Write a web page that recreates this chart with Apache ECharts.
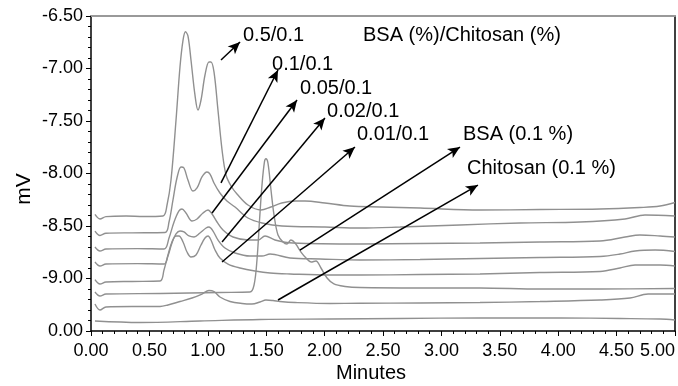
<!DOCTYPE html>
<html>
<head>
<meta charset="utf-8">
<script src="https://cdn.jsdelivr.net/npm/echarts@6/dist/echarts.min.js"></script>
<style>
  html, body { margin: 0; padding: 0; background: #fff; }
  #chart { width: 678px; height: 386px; }
</style>
</head>
<body>
<div id="chart"></div>
<script>
// Axis ticks
const xTickStep = 0.5;
const yTickValues = [-9.5, -9.0, -8.5, -8.0, -7.5, -7.0, -6.5];
const yTickLabels = ['0.00', '-9.00', '-8.50', '-8.00', '-7.50', '-7.00', '-6.50'];

// Chromatograms: [minutes, mV]
const ratio05 = [[0.034,-8.390],[0.077,-8.433],[0.128,-8.411],[0.300,-8.405],[0.450,-8.410],[0.616,-8.405],[0.651,-8.300],[0.685,-8.062],[0.728,-7.490],[0.762,-6.983],[0.788,-6.729],[0.809,-6.650],[0.830,-6.690],[0.856,-6.919],[0.890,-7.252],[0.916,-7.395],[0.942,-7.300],[0.976,-7.062],[1.010,-6.938],[1.027,-6.938],[1.053,-7.033],[1.087,-7.395],[1.122,-7.776],[1.156,-8.014],[1.199,-8.119],[1.250,-8.195],[1.344,-8.300],[1.455,-8.348],[1.540,-8.319],[1.633,-8.281],[1.750,-8.262],[1.832,-8.262],[2.003,-8.281],[2.217,-8.310],[2.474,-8.319],[2.817,-8.329],[3.330,-8.348],[3.844,-8.343],[4.358,-8.338],[4.700,-8.324],[4.872,-8.310],[5.000,-8.276]];
const ratio01 = [[0.034,-8.548],[0.077,-8.590],[0.128,-8.569],[0.350,-8.565],[0.634,-8.562],[0.668,-8.462],[0.702,-8.252],[0.736,-8.043],[0.771,-7.938],[0.796,-7.948],[0.830,-8.062],[0.873,-8.167],[0.908,-8.138],[0.950,-8.033],[0.993,-7.986],[1.019,-8.005],[1.053,-8.090],[1.104,-8.186],[1.164,-8.262],[1.233,-8.319],[1.344,-8.424],[1.464,-8.471],[1.635,-8.500],[2.003,-8.510],[2.303,-8.519],[2.646,-8.510],[3.159,-8.490],[3.673,-8.471],[4.187,-8.462],[4.572,-8.433],[4.743,-8.395],[5.000,-8.405]];
const ratio005 = [[0.034,-8.700],[0.077,-8.738],[0.128,-8.719],[0.400,-8.715],[0.625,-8.719],[0.668,-8.614],[0.711,-8.462],[0.753,-8.357],[0.779,-8.338],[0.813,-8.376],[0.865,-8.452],[0.908,-8.433],[0.959,-8.376],[1.002,-8.348],[1.036,-8.386],[1.079,-8.462],[1.130,-8.538],[1.216,-8.605],[1.344,-8.633],[1.430,-8.633],[1.490,-8.595],[1.575,-8.633],[1.729,-8.662],[2.303,-8.671],[2.817,-8.667],[3.330,-8.662],[3.844,-8.652],[4.358,-8.643],[4.572,-8.605],[4.700,-8.586],[4.872,-8.595],[5.000,-8.605]];
const ratio002 = [[0.034,-8.843],[0.077,-8.881],[0.128,-8.862],[0.400,-8.858],[0.625,-8.862],[0.659,-8.786],[0.693,-8.662],[0.728,-8.576],[0.762,-8.548],[0.796,-8.557],[0.839,-8.595],[0.882,-8.605],[0.933,-8.567],[0.985,-8.519],[1.010,-8.510],[1.045,-8.548],[1.087,-8.633],[1.147,-8.710],[1.233,-8.757],[1.361,-8.786],[1.464,-8.786],[1.533,-8.767],[1.704,-8.805],[1.961,-8.814],[2.303,-8.824],[2.817,-8.819],[3.330,-8.810],[3.844,-8.800],[4.358,-8.790],[4.529,-8.767],[4.658,-8.738],[4.829,-8.729],[5.000,-8.743]];
const ratio001 = [[0.034,-9.010],[0.077,-9.052],[0.128,-9.033],[0.350,-9.028],[0.591,-9.024],[0.625,-8.919],[0.659,-8.776],[0.693,-8.652],[0.728,-8.595],[0.753,-8.595],[0.788,-8.652],[0.822,-8.748],[0.856,-8.795],[0.899,-8.776],[0.942,-8.681],[0.976,-8.614],[1.002,-8.595],[1.027,-8.633],[1.062,-8.729],[1.104,-8.805],[1.173,-8.862],[1.276,-8.900],[1.404,-8.929],[1.533,-8.948],[1.704,-8.957],[2.046,-8.967],[2.303,-8.967],[2.817,-8.962],[3.330,-8.957],[3.844,-8.943],[4.358,-8.933],[4.529,-8.900],[4.658,-8.871],[4.872,-8.871],[5.000,-8.881]];
const bsaOnly = [[0.034,-9.129],[0.077,-9.167],[0.128,-9.148],[0.591,-9.143],[1.104,-9.133],[1.361,-9.129],[1.396,-9.062],[1.421,-8.824],[1.443,-8.443],[1.464,-8.110],[1.485,-7.890],[1.498,-7.860],[1.515,-7.900],[1.541,-8.157],[1.567,-8.395],[1.601,-8.586],[1.644,-8.652],[1.678,-8.671],[1.712,-8.633],[1.747,-8.662],[1.798,-8.748],[1.841,-8.805],[1.884,-8.843],[1.926,-8.833],[1.969,-8.900],[2.021,-8.995],[2.080,-9.052],[2.175,-9.076],[2.303,-9.086],[2.817,-9.090],[3.330,-9.090],[3.844,-9.100],[4.358,-9.100],[5.000,-9.095]];
const chitosanOnly = [[0.034,-9.243],[0.077,-9.300],[0.128,-9.271],[0.350,-9.267],[0.591,-9.267],[0.659,-9.252],[0.762,-9.219],[0.865,-9.186],[0.950,-9.148],[1.010,-9.114],[1.053,-9.124],[1.104,-9.176],[1.190,-9.219],[1.293,-9.238],[1.378,-9.243],[1.447,-9.224],[1.498,-9.205],[1.558,-9.210],[1.618,-9.219],[1.747,-9.229],[2.046,-9.238],[2.303,-9.236],[2.817,-9.233],[3.330,-9.229],[3.844,-9.219],[4.358,-9.205],[4.615,-9.186],[4.769,-9.148],[5.000,-9.148]];
const blankRun = [[0.034,-9.405],[0.420,-9.419],[0.933,-9.405],[1.447,-9.390],[2.046,-9.386],[2.646,-9.381],[3.330,-9.376],[4.015,-9.376],[4.529,-9.381],[4.872,-9.386],[5.000,-9.395]];

const traces = [ratio05, ratio01, ratio005, ratio002, ratio001, bsaOnly, chitosanOnly, blankRun];

// Callouts: text, arrow tail, arrow head, text anchor (left, middle)
const calloutText = ['0.5/0.1', '0.1/0.1', '0.05/0.1', '0.02/0.1', '0.01/0.1', 'BSA (0.1 %)', 'Chitosan (0.1 %)'];
const arrowFrom = [[1.113,-6.919],[1.113,-8.090],[1.036,-8.376],[1.122,-8.652],[1.122,-8.843],[1.789,-8.729],[1.601,-9.205]];
const arrowTo = [[1.276,-6.748],[1.601,-7.014],[1.764,-7.300],[2.003,-7.471],[2.260,-7.748],[3.159,-7.748],[3.313,-8.110]];
const textAt = [[1.301,-6.681],[1.550,-6.957],[1.789,-7.186],[2.021,-7.414],[2.277,-7.633],[3.185,-7.633],[3.219,-7.948]];
const headerText = 'BSA (%)/Chitosan (%)';
const headerAt = [2.329, -6.681];

const FONT = '"Liberation Sans", Arial, Helvetica, sans-serif';
const chart = echarts.init(document.getElementById('chart'), null, { renderer: 'canvas' });

const series = traces.map((d, i) => ({
  type: 'line',
  data: d,
  showSymbol: false,
  smooth: 0.35,
  silent: true,
  lineStyle: { color: '#909090', width: 1.4 },
  z: 2,
  markLine: i === 0 ? {
    silent: true,
    symbol: ['none', 'arrow'],
    symbolSize: [8, 12],
    label: { show: false },
    lineStyle: { color: '#000', width: 1.5, type: 'solid' },
    data: arrowFrom.map((p, k) => [{ coord: p }, { coord: arrowTo[k] }])
  } : undefined
}));

chart.setOption({
  animation: false,
  grid: { left: 91, right: 3, top: 16, bottom: 55 },
  xAxis: [{
    type: 'value', min: 0, max: 5, interval: xTickStep,
    axisLine: { show: true, onZero: false, lineStyle: { color: '#000', width: 1.5 } },
    axisTick: { show: true, length: 5, lineStyle: { color: '#000', width: 1 } },
    minorTick: { show: true, splitNumber: 5, length: 3, lineStyle: { color: '#000', width: 1 } },
    splitLine: { show: false },
    axisLabel: {
      color: '#000', fontSize: 18, fontFamily: FONT, margin: 11,
      formatter: v => v.toFixed(2), alignMaxLabel: 'right'
    }
  }, {
    type: 'value', min: 0, max: 5, position: 'top',
    axisLine: { show: true, onZero: false, lineStyle: { color: '#999', width: 2 } },
    axisTick: { show: false }, axisLabel: { show: false }, splitLine: { show: false }
  }],
  yAxis: [{
    type: 'value', min: yTickValues[0], max: yTickValues[yTickValues.length - 1], interval: 0.5,
    axisLine: { show: true, onZero: false, lineStyle: { color: '#000', width: 1.5 } },
    axisTick: { show: true, length: 5, lineStyle: { color: '#000', width: 1 } },
    minorTick: { show: true, splitNumber: 5, length: 3, lineStyle: { color: '#000', width: 1 } },
    splitLine: { show: false },
    axisLabel: {
      color: '#000', fontSize: 18, fontFamily: FONT, margin: 8, padding: [10, 0, 0, 0],
      formatter: v => {
        const k = yTickValues.findIndex(t => Math.abs(t - v) < 1e-6);
        return k >= 0 ? yTickLabels[k] : '';
      }
    }
  }, {
    type: 'value', min: yTickValues[0], max: yTickValues[yTickValues.length - 1], position: 'right',
    axisLine: { show: true, onZero: false, lineStyle: { color: '#000', width: 1.5 } },
    axisTick: { show: false }, axisLabel: { show: false }, splitLine: { show: false }
  }],
  series: series
});

// Text callouts and axis titles placed from data coordinates
const toPx = p => chart.convertToPixel({ xAxisIndex: 0, yAxisIndex: 0 }, p);
const texts = calloutText.map((t, k) => {
  const p = toPx(textAt[k]);
  return { type: 'text', z: 10, style: { text: t, x: p[0], y: p[1], fill: '#000', font: '20px ' + FONT, align: 'left', verticalAlign: 'middle' } };
});
const hp = toPx(headerAt);
texts.push({ type: 'text', z: 10, style: { text: headerText, x: hp[0], y: hp[1], fill: '#000', font: '20px ' + FONT, align: 'left', verticalAlign: 'middle' } });
texts.push({ type: 'text', z: 10, x: 24, y: 189, rotation: Math.PI / 2,
  style: { text: 'mV', x: 0, y: 0, fill: '#000', font: '21px ' + FONT, align: 'center', verticalAlign: 'middle' } });
texts.push({ type: 'text', z: 10,
  style: { text: 'Minutes', x: 371, y: 373, fill: '#000', font: '20px ' + FONT, align: 'center', verticalAlign: 'middle' } });

chart.setOption({ graphic: texts });
</script>
</body>
</html>
